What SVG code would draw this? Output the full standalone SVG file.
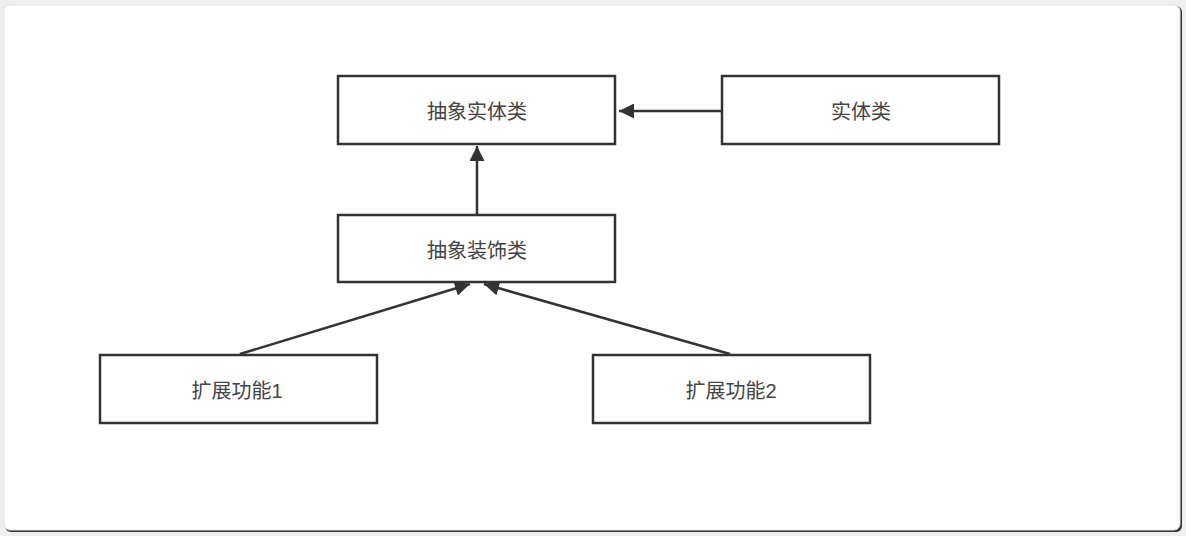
<svg xmlns="http://www.w3.org/2000/svg" width="1186" height="536" viewBox="0 0 1186 536">
<style>
.box{fill:#fff;stroke:#333;stroke-width:2.5}
.lbl{font-family:"Liberation Sans","Noto Sans CJK SC",sans-serif;font-size:20px;fill:#444;text-anchor:middle;dominant-baseline:central}
.edge{stroke:#333;stroke-width:2.5;fill:none;marker-end:url(#arr)}
</style>
<defs>
<marker id="arr" viewBox="0 0 10 10" refX="10" refY="5" markerWidth="8" markerHeight="6" markerUnits="strokeWidth" orient="auto">
<path d="M0,0 L10,5 L0,10 z" fill="#333"/>
</marker>
</defs>
<rect x="0" y="0" width="1186" height="536" fill="#efefef"/>
<rect x="5" y="6" width="1177" height="526" rx="6" fill="#333"/>
<rect x="4" y="5" width="1176" height="525" rx="6" fill="#fff" stroke="#e4e4e4" stroke-width="1"/>
<g id="connectors">
<line class="edge" x1="721" y1="111" x2="619" y2="111"/>
<line class="edge" x1="477" y1="214" x2="477" y2="146"/>
<line class="edge" x1="240" y1="354" x2="470" y2="284"/>
<line class="edge" x1="730" y1="354" x2="484" y2="284"/>
</g>
<g id="n_abstract_entity">
<rect class="box" x="338" y="76" width="277" height="68"/>
<text class="lbl" x="477" y="112">抽象实体类</text>
</g>
<g id="n_entity">
<rect class="box" x="722" y="76" width="277" height="68"/>
<text class="lbl" x="861" y="112">实体类</text>
</g>
<g id="n_abstract_decorator">
<rect class="box" x="338" y="215" width="277" height="67"/>
<text class="lbl" x="477" y="251">抽象装饰类</text>
</g>
<g id="n_ext1">
<rect class="box" x="100" y="355" width="277" height="68"/>
<text class="lbl" x="237" y="391">扩展功能1</text>
</g>
<g id="n_ext2">
<rect class="box" x="593" y="355" width="277" height="68"/>
<text class="lbl" x="731" y="391">扩展功能2</text>
</g>
</svg>
